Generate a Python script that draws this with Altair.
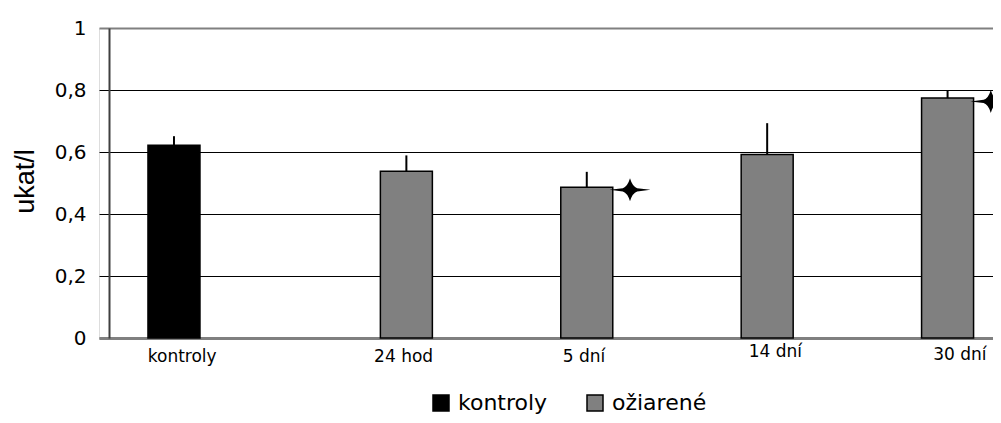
import altair as alt
import pandas as pd

categories = ["kontroly", "24 hod", "5 dní", "14 dní", "30 dní"]
groups = ["kontroly", "ožiarené", "ožiarené", "ožiarené", "ožiarené"]
means = [0.622, 0.538, 0.486, 0.592, 0.774]
upper = [0.651, 0.589, 0.536, 0.693, 0.800]
star_categories = ["5 dní", "30 dní"]
star_values = [0.478, 0.763]
y_ticks = [0, 0.2, 0.4, 0.6, 0.8, 1.0]
series = ["kontroly", "ožiarené"]
series_colors = ["#000000", "#808080"]

df = pd.DataFrame({"kategoria": categories, "skupina": groups,
                   "hodnota": means, "horna": upper})
stars = pd.DataFrame({"kategoria": star_categories, "hodnota": star_values})

label_offset = {
    "condition": [
        {"test": "datum.value == 'kontroly'", "value": -7},
        {"test": "datum.value == '14 dní'", "value": 45},
        {"test": "datum.value == '30 dní'", "value": 49},
    ],
    "value": 34,
}
label_padding = {
    "condition": [
        {"test": "datum.value == '14 dní'", "value": 5},
        {"test": "datum.value == '30 dní'", "value": 8},
    ],
    "value": 10,
}

x_enc = alt.X(
    "kategoria:N", sort=categories,
    scale=alt.Scale(range=[0, 902], paddingInner=0, paddingOuter=0),
    axis=alt.Axis(title=None, ticks=False, labelAngle=0, labelFont="DejaVu Sans",
                  labelFontSize=17, labelColor="black", domainColor="#808080",
                  domainWidth=3, labelOffset=label_offset, labelPadding=label_padding),
)
xoff_enc = alt.XOffset("skupina:N", sort=series,
                       scale=alt.Scale(domain=series, paddingInner=0,
                                       paddingOuter=0.7346, align=0.641))

grid_cond_color = {"condition": {"test": "datum.value == 0 || datum.value == 1", "value": "#808080"},
                   "value": "black"}
grid_cond_width = {"condition": {"test": "datum.value == 0 || datum.value == 1", "value": 2},
                   "value": 1}

y_enc = alt.Y(
    "hodnota:Q", scale=alt.Scale(domain=[0, 1], nice=False),
    axis=alt.Axis(
        values=y_ticks, offset=-10, ticks=False,
        labelExpr="datum.value == 0 ? '0' : datum.value == 1 ? '1' : replace(format(datum.value, '.1f'), '.', ',')",
        labelFont="DejaVu Sans", labelFontSize=20, labelColor="black", labelPadding=23,
        domainColor="#404040", domainWidth=2,
        grid=True, gridColor=grid_cond_color, gridWidth=grid_cond_width,
        title="ukat/l", titleFont="Liberation Sans", titleFontSize=27,
        titleFontWeight="normal", titleColor="black",
        titleX=-76, titleY=153, titleBaseline="alphabetic", titleAlign="center",
    ),
)

bars = alt.Chart(df).mark_bar(stroke="black", strokeWidth=1.5).encode(
    x=x_enc, xOffset=xoff_enc, y=y_enc,
    color=alt.Color("skupina:N", sort=series,
                    scale=alt.Scale(domain=series, range=series_colors),
                    legend=alt.Legend(orient="none", legendX=331, legendY=364,
                                      direction="horizontal", title=None,
                                      symbolType="square", symbolSize=256,
                                      symbolStrokeColor="black", symbolStrokeWidth=1.5,
                                      labelFont="DejaVu Sans", labelFontSize=22,
                                      labelColor="black", labelOffset=6,
                                      columnPadding=36, padding=0)),
)

errors = alt.Chart(df).mark_rule(color="black", strokeWidth=2).encode(
    x=x_enc, xOffset=xoff_enc, y=y_enc, y2="horna:Q",
)

star_path = ("M -1 0 L -0.35 -0.08 Q -0.12 -0.15 0 -0.56 Q 0.12 -0.15 0.35 -0.08 "
             "L 1 0 L 0.35 0.08 Q 0.12 0.15 0 0.56 Q -0.12 0.15 -0.35 0.08 Z")
star_layer = alt.Chart(stars).mark_point(
    shape=star_path, size=1681, filled=True, color="black", opacity=1,
    strokeWidth=0, xOffset=80,
).encode(x=x_enc, y=y_enc)

chart = alt.layer(bars, errors, star_layer).properties(
    width=894, height=310,
    autosize=alt.AutoSizeParams(type="none"),
    padding={"left": 91, "top": 20, "right": 0, "bottom": 77},
).configure_view(stroke=None).configure(background="white")

chart.save("out.html", embed_options={"renderer": "svg", "actions": False})
